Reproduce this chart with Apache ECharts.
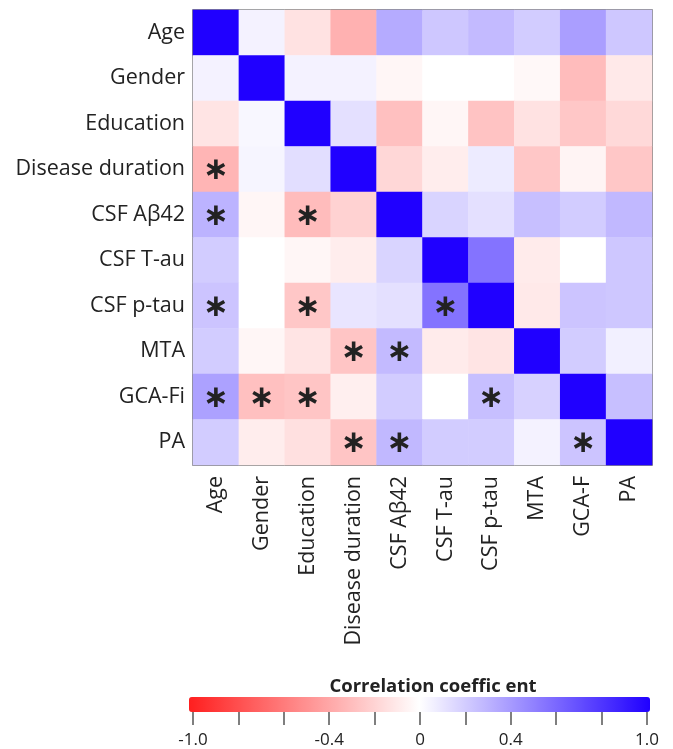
<!DOCTYPE html>
<html>
<head>
<meta charset="utf-8">
<script src="https://cdn.jsdelivr.net/npm/echarts@6/dist/echarts.min.js"></script>
<style>html,body{margin:0;padding:0;background:#fff}#c{width:673px;height:749px}</style>
</head>
<body>
<div id="c"></div>
<script>
const rowLabels = ['Age','Gender','Education','Disease duration','CSF Aβ42','CSF T-au','CSF p-tau','MTA','GCA-Fi','PA'];
const colLabels = ['Age','Gender','Education','Disease duration','CSF Aβ42','CSF T-au','CSF p-tau','MTA','GCA-F','PA'];
// correlation matrix, rows top to bottom, columns left to right
const corrAge        = [1.00, 0.05, -0.13, -0.35, 0.33, 0.22, 0.27, 0.20, 0.38, 0.22];
const corrGender     = [0.05, 1.00, 0.05, 0.05, -0.04, 0.00, 0.00, -0.03, -0.30, -0.10];
const corrEducation  = [-0.12, 0.03, 1.00, 0.12, -0.28, -0.04, -0.27, -0.13, -0.25, -0.17];
const corrDuration   = [-0.33, 0.04, 0.13, 1.00, -0.18, -0.08, 0.08, -0.25, -0.05, -0.25];
const corrAb42       = [0.30, -0.04, -0.30, -0.20, 1.00, 0.17, 0.12, 0.25, 0.20, 0.28];
const corrTau        = [0.20, 0.00, -0.04, -0.08, 0.17, 1.00, 0.55, -0.09, 0.00, 0.22];
const corrPtau       = [0.23, 0.00, -0.25, 0.10, 0.12, 0.55, 1.00, -0.10, 0.23, 0.22];
const corrMTA        = [0.20, -0.04, -0.12, -0.26, 0.27, -0.09, -0.12, 1.00, 0.20, 0.06];
const corrGCA        = [0.37, -0.28, -0.26, -0.07, 0.20, 0.00, 0.25, 0.18, 1.00, 0.25];
const corrPA         = [0.20, -0.08, -0.14, -0.26, 0.28, 0.20, 0.20, 0.05, 0.23, 1.00];
const corr = [corrAge, corrGender, corrEducation, corrDuration, corrAb42, corrTau, corrPtau, corrMTA, corrGCA, corrPA];
// significant cells [row, col]
const significant = [[3,0],[4,0],[4,2],[6,0],[6,2],[6,5],[7,3],[7,4],[8,0],[8,1],[8,2],[8,6],[9,3],[9,4],[9,8]];
const colorbarTickLabels = [-1.0, -0.4, 0, 0.4, 1.0];
const colorbarTickText = ['-1.0', '-0.4', '0', '0.4', '1.0'];

const isSig = (r, c) => significant.some(s => s[0] === r && s[1] === c);
const data = [];
corr.forEach((row, r) => row.forEach((v, c) => {
  const item = { value: [c, r, v] };
  if (isSig(r, c)) item.label = { show: true };
  data.push(item);
}));

const font = 'Open Sans';
const chart = echarts.init(document.getElementById('c'));
chart.setOption({
  animation: false,
  backgroundColor: '#fff',
  title: {
    text: 'Correlation coeffic ent',
    left: 428, top: 672, textAlign: 'center',
    textStyle: { fontFamily: font, fontSize: 18.5, fontWeight: 'bold', color: '#222' }
  },
  grid: [
    { left: 193, top: 10, width: 459, height: 455, show: true, borderColor: '#666', borderWidth: 1.5, backgroundColor: 'transparent' },
    { left: 193, top: 697, width: 454, height: 15, show: false }
  ],
  xAxis: [
    { type: 'category', gridIndex: 0, data: colLabels, position: 'bottom',
      axisLine: { show: false }, axisTick: { show: false }, splitLine: { show: false },
      axisLabel: { rotate: 90, margin: 11, fontFamily: font, fontSize: 21.5, color: '#222' } },
    { type: 'value', gridIndex: 1, min: -1, max: 1, interval: 0.2,
      axisLine: { show: false }, splitLine: { show: false },
      axisTick: { show: true, length: 14, lineStyle: { color: '#555', width: 1.5 } },
      axisLabel: { margin: 21, fontFamily: font, fontSize: 17, color: '#222',
        formatter: v => { const i = colorbarTickLabels.findIndex(t => Math.abs(t - v) < 1e-6); return i >= 0 ? colorbarTickText[i] : ''; } } }
  ],
  yAxis: [
    { type: 'category', gridIndex: 0, data: rowLabels, inverse: true,
      axisLine: { show: false }, axisTick: { show: false }, splitLine: { show: false },
      axisLabel: { margin: 8, fontFamily: font, fontSize: 21.5, color: '#222' } },
    { type: 'value', gridIndex: 1, show: false, min: 0, max: 1 }
  ],
  visualMap: {
    type: 'continuous', seriesIndex: 0, min: -1, max: 1, orient: 'horizontal',
    left: 189, top: 697, itemWidth: 15, itemHeight: 461, padding: 0,
    calculable: false, text: null, showLabel: false,
    inRange: { color: ['#ff1f1f', '#ffffff', '#2000ff'] }
  },
  series: [
    { type: 'heatmap', xAxisIndex: 0, yAxisIndex: 0, data: data,
      emphasis: { disabled: true },
      label: { show: false, formatter: '∗', fontFamily: 'DejaVu Sans', fontSize: 31, fontWeight: 'bold', color: '#222', offset: [0, 2] } },
    { type: 'scatter', xAxisIndex: 1, yAxisIndex: 1, data: [] }
  ]
});
</script>
</body>
</html>
